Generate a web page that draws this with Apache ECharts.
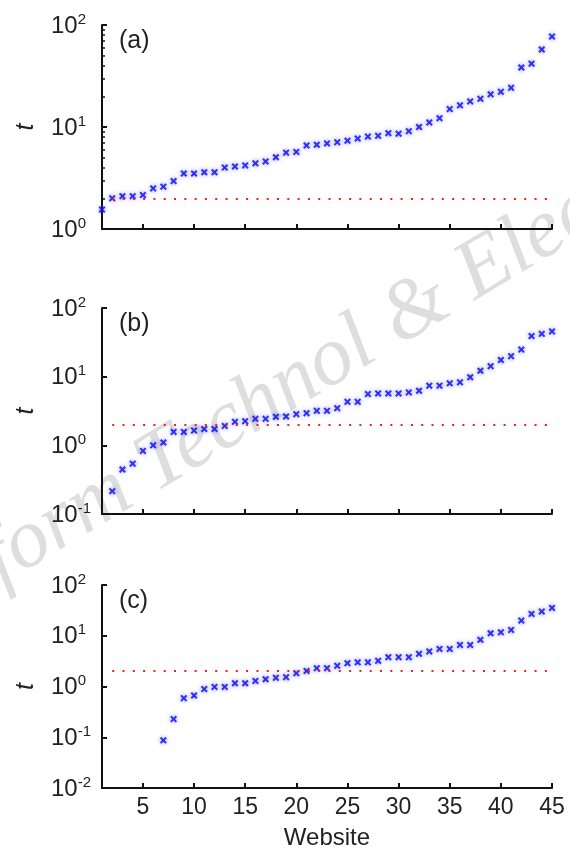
<!DOCTYPE html>
<html>
<head>
<meta charset="utf-8">
<title>t per website</title>
<script src="https://cdn.jsdelivr.net/npm/echarts@6/dist/echarts.min.js"></script>
<style>
  html, body { margin: 0; padding: 0; background: #fff; }
  #chart { width: 570px; height: 855px; }
</style>
</head>
<body>
<div id="chart"></div>
<script>
// website index where each panel starts
const startA = 1;
const startB = 2;
const startC = 7;
// t values per website (sorted)
const tA = [1.55, 2.0, 2.1, 2.1, 2.15, 2.5, 2.6, 2.95, 3.5, 3.5, 3.6, 3.6, 4.0, 4.1, 4.2,
  4.4, 4.6, 5.05, 5.6, 5.7, 6.6, 6.7, 6.9, 7.1, 7.35, 7.7, 8.05, 8.2, 8.7, 8.6,
  9.1, 10, 11.1, 12.2, 15, 16.3, 17.8, 18.9, 20.9, 22.1, 24.2, 38.3, 41.8, 57.5, 77];
const tB = [0.215, 0.445, 0.54, 0.83, 1.0, 1.1, 1.57, 1.57, 1.64, 1.73, 1.73, 1.92, 2.2, 2.25,
  2.43, 2.43, 2.6, 2.63, 2.84, 2.94, 3.18, 3.18, 3.48, 4.3, 4.3, 5.57, 5.7, 5.7, 5.7,
  5.9, 6.24, 7.4, 7.4, 8.0, 8.26, 9.8, 12.2, 14.2, 17.5, 19.9, 24.8, 39, 42, 45.6];
const tC = [0.087, 0.228, 0.59, 0.665, 0.89, 0.98, 0.98, 1.16, 1.16, 1.29, 1.39, 1.48, 1.53,
  1.83, 2.03, 2.3, 2.3, 2.55, 2.88, 3.0, 3.0, 3.2, 3.78, 3.78, 3.78, 4.4, 4.9, 5.5,
  5.5, 6.6, 6.6, 8.3, 11.2, 11.7, 13.0, 19.9, 26.9, 29.9, 35.3];
const xTicks = [5, 10, 15, 20, 25, 30, 35, 40, 45];
const threshold = 2;       // red dotted line
const lineFrom = 2;        // dotted line runs from website 2 ...
const lineTo = 45;         // ... to 45
const panelLetters = ['(a)', '(b)', '(c)'];
const yMins = [1, 0.1, 0.01];
const yMax = 100;
const minorA = [2, 3, 4, 5, 6, 7, 8, 9, 20, 30, 40, 50, 60, 70, 80, 90];

const font = '"Liberation Sans", Arial, sans-serif';
const panelTops = [25, 308, 585];
const panelHeights = [204, 206, 203];
const gridLeft = 102;
const gridWidth = 450;

const chart = echarts.init(document.getElementById('chart'), null, { renderer: 'canvas' });

// blue "x" marker
const crossPath = 'path://M0,2L2,0L5,3L8,0L10,2L7,5L10,8L8,10L5,7L2,10L0,8L3,5Z';

function pairs(start, vals) {
  return vals.map((v, i) => [start + i, v]);
}

const grids = [], xAxes = [], yAxes = [], series = [], graphics = [];

[tA, tB, tC].forEach((vals, i) => {
  const starts = [startA, startB, startC];
  grids.push({
    left: gridLeft, width: gridWidth, top: panelTops[i], height: panelHeights[i],
    outerBoundsMode: 'none'
  });
  xAxes.push({
    gridIndex: i,
    type: 'value',
    min: 1, max: 45,
    name: i === 2 ? 'Website' : '',
    nameLocation: 'middle',
    nameGap: 38,
    nameTextStyle: { fontFamily: font, fontSize: 24, color: '#222' },
    axisLine: { lineStyle: { color: '#111', width: 2 } },
    axisTick: { inside: true, length: 5, customValues: xTicks, lineStyle: { color: '#111', width: 2 } },
    axisLabel: {
      show: i === 2, customValues: xTicks, margin: 8,
      fontFamily: font, fontSize: 23, color: '#222'
    },
    splitLine: { show: false }
  });
  yAxes.push({
    gridIndex: i,
    type: 'log',
    logBase: 10,
    min: yMins[i], max: yMax,
    name: 't',
    nameLocation: 'middle',
    nameGap: 63,
    nameRotate: 90,
    nameTextStyle: { fontFamily: font, fontSize: 25, fontStyle: 'italic', color: '#222' },
    axisLine: { show: true, lineStyle: { color: '#111', width: 2 } },
    axisTick: { show: true, inside: true, length: 5, lineStyle: { color: '#111', width: 2 } },
    axisLabel: {
      align: 'left',
      margin: 51,
      formatter: function (v) {
        const e = Math.round(Math.log10(v));
        return '{b|10}{s|' + e + '}';
      },
      rich: {
        b: { fontFamily: font, fontSize: 24, color: '#222', lineHeight: 26, verticalAlign: 'bottom' },
        s: { fontFamily: font, fontSize: 15, color: '#222', lineHeight: 26, verticalAlign: 'top' }
      }
    },
    splitLine: { show: false }
  });
  series.push({
    type: 'scatter',
    xAxisIndex: i, yAxisIndex: i,
    symbol: crossPath,
    symbolSize: 7,
    itemStyle: { color: '#0808f0', shadowBlur: 4, shadowColor: 'rgba(70,70,255,0.75)' },
    data: pairs(starts[i], vals),
    z: 3,
    markLine: {
      silent: true,
      symbol: 'none',
      label: { show: false },
      lineStyle: { color: '#ff1a1a', width: 2, type: [2, 8.3], cap: 'butt' },
      data: [[{ coord: [lineFrom, threshold] }, { coord: [lineTo, threshold] }]]
    }
  });
  graphics.push({
    type: 'text',
    left: 119,
    top: panelTops[i] + 4,
    style: { text: panelLetters[i], font: '25px ' + font, fill: '#222' },
    z: 10
  });
});

// minor log ticks on panel (a), on an overlaid linear axis in log10 units
yAxes.push({
  gridIndex: 0,
  type: 'value',
  position: 'left',
  offset: 0,
  min: 0, max: 2,
  axisLine: { show: false },
  axisLabel: { show: false },
  splitLine: { show: false },
  axisTick: {
    show: true, inside: true, length: 3,
    customValues: minorA.map(v => Math.log10(v)),
    lineStyle: { color: '#111', width: 1.5 }
  }
});

// journal watermark, rotated, centred on the "&"
const wmFont = 'italic 84px "Liberation Serif", "Times New Roman", serif';
const wmColor = 'rgba(195,195,195,0.55)';
graphics.push({
  type: 'group',
  x: 416, y: 310,
  rotation: 31 * Math.PI / 180,
  silent: true,
  z: -1,
  children: [
    { type: 'text', x: -34, y: 0, style: { text: 'Front Inform Technol ', font: wmFont, fill: wmColor, textAlign: 'right', textVerticalAlign: 'middle' } },
    { type: 'text', x: 0, y: 0, style: { text: '&', font: wmFont, fill: wmColor, textAlign: 'center', textVerticalAlign: 'middle' } },
    { type: 'text', x: 34, y: 0, style: { text: ' Electron Eng', font: wmFont, fill: wmColor, textAlign: 'left', textVerticalAlign: 'middle' } }
  ]
});

chart.setOption({
  backgroundColor: '#fff',
  animation: false,
  grid: grids,
  xAxis: xAxes,
  yAxis: yAxes,
  series: series,
  graphic: graphics
});
</script>
</body>
</html>
